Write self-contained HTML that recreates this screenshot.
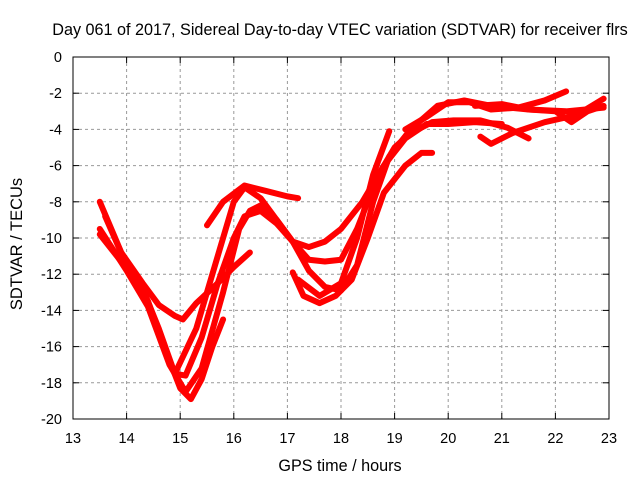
<!DOCTYPE html>
<html><head><meta charset="utf-8"><style>
body{margin:0;background:#fff}
svg{display:block;font-family:"Liberation Sans",sans-serif}
</style></head><body>
<svg id="c" width="640" height="480">
<text x="340" y="35" text-anchor="middle" font-size="16.2">Day 061 of 2017, Sidereal Day-to-day VTEC variation (SDTVAR) for receiver flrs</text>
<text x="340" y="471" text-anchor="middle" font-size="16.2">GPS time / hours</text>
<text transform="translate(22,244) rotate(-90)" text-anchor="middle" font-size="16.5">SDTVAR / TECUs</text>
<g id="grid"></g><g id="ticks"></g><g id="series"></g>
<rect x="73" y="57" width="536" height="362" fill="none" stroke="#000"/>
</svg>
<script>
const xTicks=[13,14,15,16,17,18,19,20,21,22,23];
const yTicks=[0,-2,-4,-6,-8,-10,-12,-14,-16,-18,-20];
const s1=[[13.5,-8],[13.9,-10.8],[14.3,-12.5],[14.6,-13.7],[14.9,-14.3],[15.05,-14.5],[15.3,-13.6],[15.7,-12.5],[16.0,-11.6],[16.3,-10.8]];
const s2=[[13.5,-9.8],[13.9,-11.3],[14.3,-12.8],[14.6,-15],[14.9,-17.5],[15.1,-17.6],[15.4,-15.5],[15.7,-12.5],[16.0,-10],[16.2,-8.8],[16.5,-8.5],[16.8,-9.2],[17.1,-10.2],[17.4,-10.5],[17.7,-10.2],[18.0,-9.5],[18.4,-8],[18.8,-6],[19.2,-4.5],[19.6,-3.7],[20.0,-3.7],[20.5,-3.6],[21.0,-3.7]];
const s3=[[13.6,-8.8],[14.0,-11.5],[14.4,-13.5],[14.7,-16],[15.0,-18.3],[15.2,-18.9],[15.4,-17.8],[15.6,-16],[15.8,-14.5]];
const s4=[[13.5,-9.5],[14.0,-11.8],[14.4,-13.8],[14.8,-17],[15.1,-18.5],[15.4,-17.2],[15.8,-13],[16.1,-9.5],[16.3,-8.5],[16.5,-8.2],[16.8,-9],[17.1,-10.2],[17.4,-11.2],[17.7,-11.3],[18.0,-11.2],[18.3,-9.5],[18.7,-6.5],[19.0,-5],[19.3,-4.2],[19.7,-3.6],[20.1,-3.5],[20.6,-3.5],[21.1,-3.9],[21.5,-4.5]];
const s5=[[15.5,-9.3],[15.8,-8],[16.2,-7.1],[16.6,-7.4],[17.0,-7.7],[17.2,-7.8]];
const s6=[[14.9,-17.5],[15.3,-15],[15.7,-11],[16.0,-8],[16.2,-7.2],[16.5,-7.8],[16.8,-9],[17.1,-10.2],[17.4,-11.8],[17.7,-12.7],[18.0,-12.9],[18.3,-11.5],[18.6,-8],[18.9,-5.5],[19.3,-4],[19.8,-2.7],[20.3,-2.4],[20.8,-2.7],[21.5,-2.9],[22.2,-3],[22.9,-2.8]];
const s7=[[17.1,-11.9],[17.3,-13.2],[17.6,-13.6],[17.9,-13.2],[18.2,-12.3],[18.5,-10],[18.8,-7.5],[19.2,-6],[19.5,-5.3],[19.7,-5.3]];
const s8=[[17.2,-12.3],[17.6,-13.2],[18.0,-12.5],[18.3,-10],[18.6,-6.5],[18.9,-4.1]];
const s9=[[19.2,-4],[19.6,-3.3],[20.0,-2.5],[20.4,-2.5],[20.8,-2.9],[21.3,-2.8],[21.8,-2.4],[22.2,-1.9]];
const s10=[[20.6,-4.4],[20.8,-4.8],[21.2,-4.2],[21.8,-3.6],[22.4,-3.2],[22.9,-2.3]];
const s11=[[20.5,-2.7],[21,-2.6],[21.5,-2.9],[22,-3],[22.3,-3.6],[22.6,-3],[22.9,-2.7]];
const allSeries=[s1,s2,s3,s4,s5,s6,s7,s8,s9,s10,s11];
const NS="http://www.w3.org/2000/svg";
const X=v=>73+(v-13)*53.6, Y=v=>57-v*18.1;
const grid=document.getElementById('grid'),ticks=document.getElementById('ticks'),ser=document.getElementById('series');
function mk(t,a,p){const e=document.createElementNS(NS,t);for(const k in a)e.setAttribute(k,a[k]);p.appendChild(e);return e;}
xTicks.forEach(v=>{
 if(v>13&&v<23){const g=mk('line',{x1:X(v),x2:X(v),y1:57,y2:419,stroke:'#999','stroke-dasharray':'3,3'},grid);
 
 }
 mk('line',{x1:X(v),x2:X(v),y1:419,y2:413,stroke:'#000'},ticks);
 mk('line',{x1:X(v),x2:X(v),y1:57,y2:63,stroke:'#000'},ticks);
 const t=mk('text',{x:X(v),y:443,'text-anchor':'middle','font-size':14.5},ticks);t.textContent=v;
 
 
});
yTicks.forEach(v=>{
 if(v<0&&v>-20){const g=mk('line',{x1:73,x2:609,y1:Y(v),y2:Y(v),stroke:'#999','stroke-dasharray':'3,3'},grid);
 
 }
 mk('line',{x1:73,x2:79,y1:Y(v),y2:Y(v),stroke:'#000'},ticks);
 mk('line',{x1:603,x2:609,y1:Y(v),y2:Y(v),stroke:'#000'},ticks);
 const t=mk('text',{x:62,y:Y(v)+5,'text-anchor':'end','font-size':14.5},ticks);t.textContent=v;
 
 
});
allSeries.forEach((s,i)=>{
 const p=mk('polyline',{points:s.map(d=>X(d[0])+','+Y(d[1])).join(' '),fill:'none',stroke:'#f00','stroke-width':6,'stroke-linejoin':'round','stroke-linecap':'round'},ser);
 
 
});
</script>
</body></html>
